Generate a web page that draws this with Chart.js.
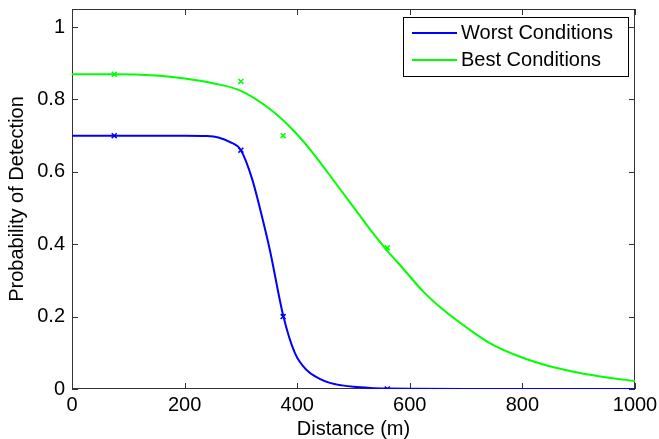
<!DOCTYPE html>
<html>
<head>
<meta charset="utf-8">
<script src="https://cdn.jsdelivr.net/npm/chart.js@4.4.0/dist/chart.umd.min.js"></script>
<style>
  html, body { margin: 0; padding: 0; background: #fff; }
  #wrap { width: 659px; height: 439px; }
</style>
</head>
<body>
<div id="wrap"><canvas id="pdChart" width="659" height="439"></canvas></div>
<script>
// fitted curves (distance in m, probability)
var worstX = [0, 75, 150, 200, 240, 260, 280, 300, 320, 340, 352, 375, 396, 417, 440, 458, 480, 500, 530, 560, 600, 700, 800, 1000];
var worstY = [0.70, 0.70, 0.70, 0.70, 0.699, 0.695, 0.683, 0.66, 0.58, 0.46, 0.38, 0.204, 0.099, 0.052, 0.028, 0.017, 0.01, 0.006, 0.003, 0.0015, 0.0005, 0, 0, 0];
var bestX = [0, 75, 150, 200, 250, 300, 352, 393, 429, 470, 506, 529, 559, 588, 624, 660, 707, 742, 796, 850, 900, 950, 1000];
var bestY = [0.87, 0.87, 0.866, 0.858, 0.845, 0.824, 0.773, 0.715, 0.650, 0.565, 0.490, 0.442, 0.384, 0.333, 0.269, 0.218, 0.163, 0.127, 0.089, 0.062, 0.045, 0.032, 0.022];

// measured points (x markers)
var worstPtsX = [75, 300, 375, 560];
var worstPtsY = [0.70, 0.66, 0.20, 0.0];
var bestPtsX = [75, 300, 375, 560];
var bestPtsY = [0.87, 0.85, 0.70, 0.39];

var xTicks = [0, 200, 400, 600, 800, 1000];
var yTicks = [0, 0.2, 0.4, 0.6, 0.8, 1];

var BLUE = '#0000ff';
var GREEN = '#00ff00';
var FONT = { family: '"Liberation Sans", Arial, Helvetica, sans-serif', size: 20 };

function toXY(xs, ys) {
  return xs.map(function (x, i) { return { x: x, y: ys[i] }; });
}

function noPad(s) {
  s.paddingTop = 0; s.paddingBottom = 0;
  s.paddingLeft = 0; s.paddingRight = 0;
}

// matlab style box with inward ticks + legend inside the plot
var matlabAxes = {
  id: 'matlabAxes',
  beforeDatasetsDraw: function (chart) {
    var ctx = chart.ctx, a = chart.chartArea;
    var xs = chart.scales.x, ys = chart.scales.y;
    ctx.save();
    ctx.strokeStyle = '#333';
    ctx.lineWidth = 1;
    ctx.strokeRect(a.left + 0.5, a.top + 0.5, a.right - a.left - 1, a.bottom - a.top - 1);
    ctx.beginPath();
    xTicks.forEach(function (v) {
      var px = Math.round(xs.getPixelForValue(v)) + 0.5;
      ctx.moveTo(px, a.bottom); ctx.lineTo(px, a.bottom - 6);
      ctx.moveTo(px, a.top); ctx.lineTo(px, a.top + 6);
    });
    yTicks.forEach(function (v) {
      var py = Math.round(ys.getPixelForValue(v)) + 0.5;
      ctx.moveTo(a.left, py); ctx.lineTo(a.left + 6, py);
      ctx.moveTo(a.right, py); ctx.lineTo(a.right - 6, py);
    });
    ctx.stroke();
    ctx.restore();
  },
  afterDraw: function (chart) {
    var ctx = chart.ctx, a = chart.chartArea;
    var bx = a.right - 232, by = a.top + 8, bw = 226, bh = 60;
    ctx.save();
    ctx.fillStyle = '#fff';
    ctx.fillRect(bx, by, bw, bh);
    ctx.strokeStyle = '#000';
    ctx.lineWidth = 1;
    ctx.strokeRect(bx + 0.5, by + 0.5, bw - 1, bh - 1);
    ctx.font = FONT.size + 'px ' + FONT.family;
    ctx.textBaseline = 'middle';
    ctx.textAlign = 'left';
    [0, 1].forEach(function (i) {
      var ds = chart.data.datasets[i];
      var ry = by + 16 + i * 27;
      ctx.strokeStyle = ds.borderColor;
      ctx.lineWidth = 2;
      ctx.beginPath();
      ctx.moveTo(bx + 9, ry); ctx.lineTo(bx + 54, ry);
      ctx.stroke();
      ctx.fillStyle = '#000';
      ctx.fillText(ds.label, bx + 58, ry);
    });
    ctx.restore();
  }
};

var ctx = document.getElementById('pdChart').getContext('2d');
new Chart(ctx, {
  type: 'line',
  data: {
    datasets: [
      {
        label: 'Worst Conditions',
        data: toXY(worstX, worstY),
        borderColor: BLUE,
        borderWidth: 2,
        pointRadius: 0,
        cubicInterpolationMode: 'monotone',
        fill: false
      },
      {
        label: 'Best Conditions',
        data: toXY(bestX, bestY),
        borderColor: GREEN,
        borderWidth: 2,
        pointRadius: 0,
        cubicInterpolationMode: 'monotone',
        fill: false
      },
      {
        label: 'Worst measured',
        type: 'scatter',
        data: toXY(worstPtsX, worstPtsY),
        pointStyle: 'crossRot',
        pointRadius: 3.5,
        borderColor: BLUE,
        borderWidth: 1.5,
        showLine: false
      },
      {
        label: 'Best measured',
        type: 'scatter',
        data: toXY(bestPtsX, bestPtsY),
        pointStyle: 'crossRot',
        pointRadius: 3.5,
        borderColor: GREEN,
        borderWidth: 1.5,
        showLine: false
      }
    ]
  },
  options: {
    responsive: false,
    animation: false,
    layout: { padding: { top: 9, right: 24, left: 0, bottom: 0 } },
    plugins: {
      legend: { display: false },
      tooltip: { enabled: false }
    },
    scales: {
      x: {
        type: 'linear',
        min: 0,
        max: 1000,
        afterBuildTicks: function (s) { s.ticks = xTicks.map(function (v) { return { value: v }; }); },
        afterFit: function (s) { s.height = 50; noPad(s); },
        grid: { display: false, drawTicks: false },
        border: { display: false },
        ticks: {
          font: FONT,
          color: '#000',
          padding: 4,
          maxRotation: 0,
          callback: function (v) { return String(v); }
        },
        title: {
          display: true,
          text: 'Distance (m)',
          color: '#000',
          font: { family: FONT.family, size: 20, lineHeight: 1 },
          padding: { top: 0, bottom: 0 }
        }
      },
      y: {
        type: 'linear',
        min: 0,
        max: 1.05,
        afterBuildTicks: function (s) { s.ticks = yTicks.map(function (v) { return { value: v }; }); },
        afterFit: function (s) { s.width = 72; noPad(s); },
        grid: { display: false, drawTicks: false },
        border: { display: false },
        ticks: {
          font: FONT,
          color: '#000',
          padding: 7,
          callback: function (v) { return String(Math.round(v * 10) / 10); }
        },
        title: {
          display: true,
          text: 'Probability of Detection',
          color: '#000',
          font: { family: FONT.family, size: 20, lineHeight: 1 },
          padding: { top: 7, bottom: 0 }
        }
      }
    }
  },
  plugins: [matlabAxes]
});
</script>
</body>
</html>
